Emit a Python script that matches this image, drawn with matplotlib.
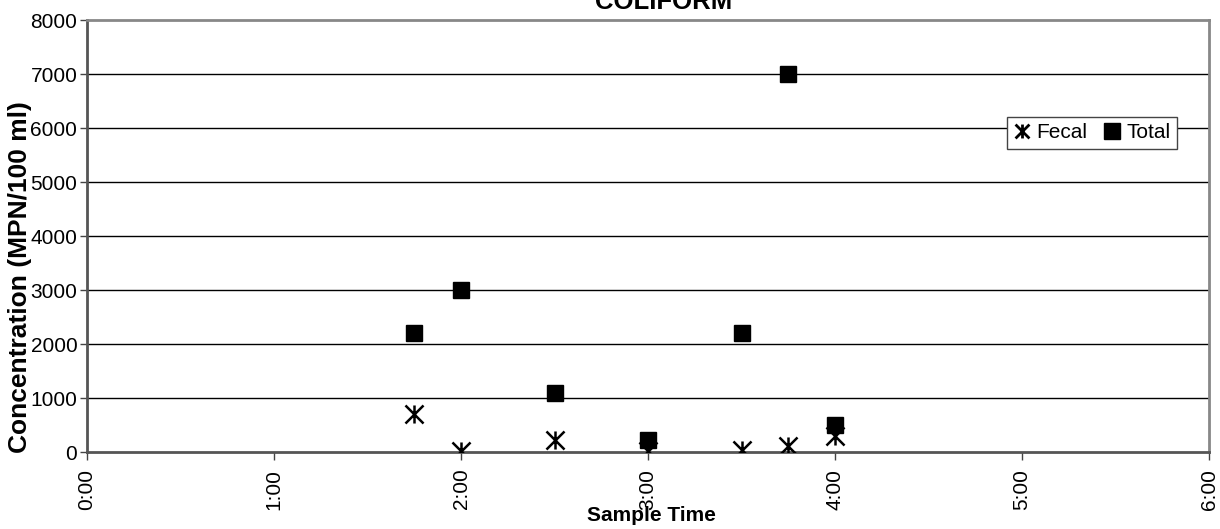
import matplotlib.pyplot as plt
import numpy as np
from matplotlib.path import Path
from matplotlib.lines import Line2D

plt.rcParams['font.family'] = ['Liberation Sans', 'DejaVu Sans']

# sample times (h:mm) and coliform counts (MPN/100 ml)
times = ["1:45", "2:00", "2:30", "3:00", "3:30", "3:45", "4:00"]
fecal = [700, 20, 230, 20, 40, 120, 300]
total = [2200, 3000, 1100, 230, 2200, 7000, 500]
hour_ticks = [0, 1, 2, 3, 4, 5, 6]
tick_labels = ["0:00", "1:00", "2:00", "3:00", "4:00", "5:00", "6:00"]

def to_hours(t):
    h, m = t.split(":")
    return int(h) + int(m) / 60.0

x = np.array([to_hours(t) for t in times])

# excel style star marker: X with a vertical bar
star = Path([(-1, -1), (1, 1), (-1, 1), (1, -1), (0, -1), (0, 1)],
            [Path.MOVETO, Path.LINETO, Path.MOVETO, Path.LINETO, Path.MOVETO, Path.LINETO])

fig = plt.figure(figsize=(12.2, 5.29), dpi=100)
ax = fig.add_axes([87/1220, 1 - 452/529, 1122/1220, 432/529])

ax.plot(x, total, linestyle='none', marker='s', markersize=11, color='black', label='Total', zorder=3)
ax.plot(x, fecal, linestyle='none', marker=star, markersize=13, markeredgewidth=1.8,
        color='black', label='Fecal', zorder=4)

ax.set_xlim(0, 6)
ax.set_ylim(0, 8000)
ax.set_xticks(hour_ticks)
ax.set_xticklabels(tick_labels, rotation=90, fontsize=15)
ax.set_yticks(np.arange(0, 8001, 1000))
ax.tick_params(axis='y', labelsize=15, length=5, width=1, color='#444444', pad=2)
ax.tick_params(axis='x', length=6, width=1, color='#444444', pad=6)

for v in range(1000, 8000, 1000):
    ax.axhline(v, color='black', linewidth=1, zorder=1)

for side in ['left', 'bottom']:
    ax.spines[side].set_color('#555555')
    ax.spines[side].set_linewidth(2)
for side in ['top', 'right']:
    ax.spines[side].set_color('#888888')
    ax.spines[side].set_linewidth(2)

ax.set_ylabel("Concentration (MPN/100 ml)", fontsize=19, fontweight='bold')
ax.yaxis.set_label_coords(-0.049, 0.405)
ax.set_xlabel("Sample Time", fontsize=15, fontweight='bold')
ax.xaxis.set_label_coords(0.503, -0.124)

handles = [Line2D([], [], linestyle='none', marker=star, markersize=10, markeredgewidth=2, color='black'),
           Line2D([], [], linestyle='none', marker='s', markersize=11, color='black')]
leg = ax.legend(handles, ['Fecal', 'Total'], ncol=2, loc='upper left',
                bbox_to_anchor=((1007-87)/1122, (452-117)/432), fontsize=15,
                frameon=True, fancybox=False, edgecolor='#444444', framealpha=1,
                handlelength=0.8, handletextpad=0.3, columnspacing=0.8,
                borderpad=0.3, borderaxespad=0)
leg.get_frame().set_linewidth(1)

fig.text(664/1220, 1 - 9/529, "COLIFORM", fontsize=18.5, fontweight='bold', ha='center', va='baseline')

fig.savefig('out.png', dpi=100)
